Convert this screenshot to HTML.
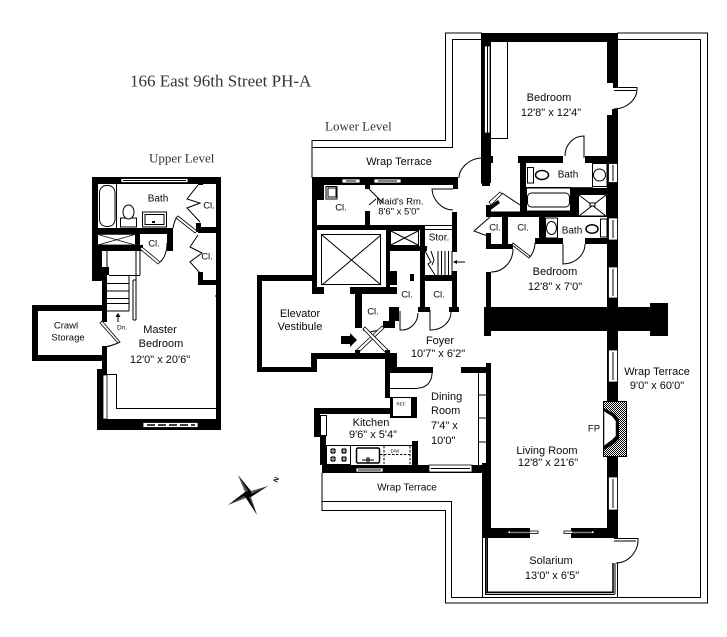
<!DOCTYPE html>
<html><head><meta charset="utf-8"><style>
html,body{margin:0;padding:0;background:#fff;width:727px;height:637px;overflow:hidden}
svg{display:block}
text{font-family:"Liberation Sans",sans-serif;font-size:11px;fill:#0a0a0a;text-anchor:middle;dominant-baseline:central}
text.s{font-family:"Liberation Serif",serif;fill:#333;text-anchor:start}
</style></head><body>
<svg width="727" height="637" viewBox="0 0 727 637" xmlns="http://www.w3.org/2000/svg">
<defs><pattern id="d" width="2" height="2" patternUnits="userSpaceOnUse"><rect width="2" height="2" fill="#fff"/><rect width="1" height="1"/><rect x="1" y="1" width="1" height="1"/></pattern></defs>

<text class="s" x="130" y="81" style="font-size:17px">166 East 96th Street PH-A</text>
<text class="s" x="149" y="158" style="font-size:13px">Upper Level</text>
<text class="s" x="325" y="126" style="font-size:13px">Lower Level</text>

<!-- terrace lines -->
<g fill="none" stroke="#000" stroke-width="1">
<path d="M312 178V140.500H445.500V33H482M617 33H707.500V603H445.500V510.500H322V473"/>
<path d="M312 147.500H452.500V39.500H482M617 39.500H700.500V597.500H451.500V501.500H322"/>
<path d="M507.500 42V138.500H491"/>
<path d="M482.500 538V597M485.500 538V594.500H615M487.500 538V592H614M617.500 563V597M615 563V594"/>
</g>
<path d="M486 538V592.500H613V563" fill="none" stroke="#000" stroke-width="1.500"/>

<!-- black walls lower -->
<g fill="#000">
<rect x="481" y="33" width="137" height="9"/>
<rect x="481" y="33" width="10" height="150"/>
<rect x="491" y="156" width="2" height="7"/>
<rect x="482" y="183" width="8" height="3"/>
<rect x="607" y="33" width="11" height="50"/>
<rect x="613" y="83" width="5" height="5"/>
<rect x="612" y="109" width="6" height="6"/>
<rect x="607" y="115" width="11" height="192"/>
<rect x="518" y="156" width="45" height="7"/>
<rect x="585" y="156" width="22" height="7"/>
<rect x="520" y="156" width="6" height="56"/>
<rect x="526" y="187" width="67" height="0.800"/>
<rect x="571" y="188" width="36" height="6"/>
<rect x="571" y="188" width="7" height="29"/>
<rect x="486" y="211.500" width="132" height="5.500"/>
<rect x="502" y="217" width="6" height="23"/>
<rect x="539" y="217" width="6" height="23"/>
<rect x="535" y="238" width="28" height="6"/>
<rect x="585" y="238" width="22" height="6"/>
<rect x="486" y="244" width="27" height="5"/>
<rect x="502" y="238" width="6" height="8"/>
<rect x="486" y="205" width="5" height="12"/>
<rect x="486" y="233" width="5" height="16"/>
<rect x="486" y="272" width="5" height="35"/>
<rect x="484" y="307" width="7" height="29"/>
<rect x="487" y="307" width="163" height="24"/>
<rect x="650" y="303" width="18" height="33"/>
<rect x="607" y="331" width="11" height="207"/>
<rect x="486" y="363" width="5" height="175"/>
<rect x="482" y="463" width="9" height="75"/>
<rect x="482" y="528" width="48" height="10"/>
<rect x="571" y="528" width="47" height="10"/>
<rect x="461" y="367" width="30" height="6"/>
<!-- maid / core -->
<rect x="312" y="177" width="146" height="8"/>
<rect x="453" y="185" width="5" height="4"/>
<rect x="312" y="177" width="5" height="117"/>
<rect x="317" y="185" width="7" height="15"/>
<rect x="365" y="185" width="5" height="4"/>
<rect x="365" y="211" width="5" height="14"/>
<rect x="317" y="225" width="108" height="5"/>
<rect x="452" y="212" width="5" height="40"/>
<rect x="386" y="230" width="4" height="57"/>
<rect x="390" y="246" width="37" height="5"/>
<rect x="420" y="225" width="5" height="87"/>
<rect x="420" y="275" width="37" height="6"/>
<rect x="452" y="271" width="5" height="36"/>
<rect x="449" y="307" width="10" height="5"/>
<rect x="418" y="307" width="12" height="5"/>
<rect x="389" y="271" width="8" height="14"/>
<rect x="410" y="274" width="4" height="7"/>
<rect x="312" y="287" width="12" height="7"/>
<rect x="350" y="287" width="47" height="7"/>
<rect x="355" y="294" width="7" height="34"/>
<rect x="389" y="307" width="10" height="14"/>
<rect x="383" y="321" width="12" height="7"/>
<!-- vestibule -->
<rect x="257" y="275" width="55" height="6"/>
<rect x="257" y="275" width="5" height="97"/>
<rect x="257" y="367" width="60" height="5"/>
<rect x="311" y="353" width="6" height="19"/>
<rect x="311" y="353" width="86" height="6"/>
<rect x="385" y="353" width="12" height="14"/>
<rect x="385" y="353" width="5" height="45"/>
<rect x="390" y="367" width="43" height="6"/>
<!-- kitchen / dining -->
<rect x="390" y="397" width="27" height="21"/>
<rect x="314" y="408" width="76" height="6"/>
<rect x="314" y="408" width="6" height="29"/>
<rect x="320" y="435" width="6" height="30"/>
<rect x="412" y="441" width="6" height="24"/>
<rect x="322" y="465" width="169" height="8"/>
<rect x="482" y="465" width="9" height="8"/>
<!-- stairs/vestibule arrow -->
<path d="M341 336H350V333L357 340L350 347V344H341Z"/>
<path d="M488 212L500 203L498 200L486 209Z"/>
</g>

<!-- white interiors on walls -->
<g fill="#fff" stroke="#000" stroke-width="0.800">
<rect x="484.500" y="46" width="5.500" height="87"/>
<rect x="608.500" y="163.500" width="9" height="19"/>
<rect x="608.500" y="218" width="9" height="22"/>
<rect x="608.500" y="267" width="9" height="31"/>
<rect x="608.500" y="350" width="9" height="32"/>
<rect x="608.500" y="477" width="9" height="33"/>
<rect x="342" y="179" width="18" height="4"/>
<rect x="374" y="179" width="27" height="4"/>
<rect x="356" y="468" width="27" height="4"/>
<rect x="429" y="465" width="43" height="7"/>
<rect x="508" y="531" width="30" height="2.500"/>
<rect x="564" y="531" width="30" height="2.500"/>
</g>
<g stroke="#000" stroke-width="1" fill="none">
<path d="M613 165V181M613 220V238M613 269V296M613 352V380M613 479V508M346 181H356M378 181H397M358 470H381M431 468.500H470M510 532H530M572 532H592M487.500 46V133"/>
</g>

<!-- shelves dining -->
<g stroke="#000" stroke-width="1" fill="none">
<path d="M478.500 373V465M478 395H486M478 418H486M478 442H486"/>
<path d="M390 388.500H418"/>
</g>

<!-- elevator and shafts -->
<g fill="none" stroke="#000" stroke-width="1">
<rect x="321.500" y="234.500" width="59" height="50"/>
<path d="M322 235L381 285M381 235L322 285"/>
<rect x="390.500" y="230.500" width="28" height="15"/>
<path d="M391 231L418 245M418 231L391 245"/>
<path d="M425 229.500H452M425 225.500H452"/>
<path d="M425 251L431 262L428 264L435 275M431 251L434 260L432 265"/>
<path d="M438 251V275M441.500 251V275M445 251V275M448.500 251V275M452 251V275"/>
<path d="M326 186.500H337V199H326Z"/><path d="M328 188H336V197H328Z"/>
<path d="M369 189L383 203M369 205L376 199"/>
<path d="M453 189H432C432.500 200 442 210 453 210"/>
<path d="M482 158V184" />
<path d="M482 158C470 158 459 168 459 178"/>
<!-- doors -->
<path d="M418 313C418 322 411 330 402 330H400V311"/>
<path d="M451 312C451 322 442 330 431 330H430V310"/>
<path d="M432 373C432 382 426 388 418 388"/>
<path d="M565 156C565 145 573 136 584 136V158"/>
<path d="M585 244C585 255 575 264 563 264V244"/>
<path d="M513 249C513 262 503 272 491 272"/>
<path d="M491 245.500H513M491 248.500H513"/>
<path d="M535 243C535 249 533 253 530 257"/>
<path d="M490 217L474 231L490 237"/>
<path d="M502 193L520 205"/>
<path d="M614 87.500H637V89C637 100 626 109 614 109"/>
<path d="M614 90.500H636"/>
<path d="M614 538.500H638V540C638 552 628 563 616 563"/>
<path d="M614 541H636"/>
<path d="M363 330C366 332 371 330 370 334C370 330 375 332 378 330"/>
</g>
<g fill="#fff" stroke="#000" stroke-width="0.800">
<path d="M489 202L500 192L502 194L491 205Z"/>
<path d="M513 243L530 256L529 258L512 245Z"/>
<path d="M355.500 351L382 326L384 328L358 353Z"/>
<path d="M365 327L389 351L386 353L363 329Z"/>
</g>
<g fill="#000"><rect x="355" y="350" width="5" height="3"/><rect x="385" y="350" width="5" height="3"/></g>

<!-- bathroom fixtures lower -->
<g fill="#fff" stroke="#000" stroke-width="1">
<rect x="592.500" y="163.500" width="14.500" height="23"/>
<circle cx="599.500" cy="175" r="6"/>
<rect x="527.500" y="167.500" width="6" height="15.500"/>
<ellipse cx="542" cy="175" rx="6.500" ry="4.500" stroke-width="1.500"/>
<rect x="526.500" y="188" width="44" height="23"/>
<rect x="527.500" y="193" width="42" height="14" rx="4"/>
<rect x="578.500" y="194.500" width="28" height="21.500"/>
<path d="M579 195L606 216M606 195L579 216" fill="none"/>
<rect x="590" y="203" width="5" height="3"/>
<rect x="545.500" y="218" width="12" height="20"/>
<ellipse cx="551.500" cy="228" rx="5" ry="6.500"/>
<rect x="600.500" y="219" width="6.500" height="18"/>
<ellipse cx="592" cy="229" rx="6" ry="4.200" stroke-width="1.500"/>
</g>

<!-- fireplace -->
<rect x="603.500" y="401.500" width="23" height="55" fill="url(#d)" stroke="#000"/>
<path d="M604 408L615 414L619 419L619 439L615 443L604 450Z" fill="#000"/>
<path d="M604 411L612 416L616 421V436L612 440L604 446Z" fill="#fff" stroke="#000" stroke-width="0.500"/>

<!-- kitchen details -->
<g fill="none" stroke="#000" stroke-width="1">
<rect x="320.500" y="415.500" width="6" height="20" fill="#fff"/>
<rect x="326.500" y="445.500" width="24" height="19" />
<path d="M326 445.500H412"/>
<rect x="356.500" y="448" width="23" height="15" rx="1.500" stroke-width="1.500"/>
<path d="M367 463V458H369V463M362 460H374"/>
<path d="M380 454.500H412M384 446V464M410 446V464" stroke-dasharray="2.500 1.500"/>
<rect x="392.500" y="397.500" width="19" height="19" fill="#fff"/>
</g>
<g fill="#000">
<circle cx="333" cy="451" r="3"/><circle cx="344" cy="451" r="3"/><circle cx="333" cy="459" r="3"/><circle cx="344" cy="459" r="3"/>
</g>
<g stroke="#fff" stroke-width="0.700"><path d="M333 447V455M329 451H337M344 447V455M340 451H348M333 455V463M329 459H337M344 455V463M340 459H348"/></g>

<!-- stairs arrow lower -->
<path d="M465 262H455" stroke="#000" fill="none"/><path d="M453 262L457 260V264Z"/>

<!-- UPPER LEVEL -->
<g fill="#000">
<rect x="92" y="177" width="129" height="7"/>
<rect x="92" y="177" width="6" height="74"/>
<rect x="92" y="228" width="81" height="6"/>
<rect x="135" y="228" width="5" height="23"/>
<rect x="92" y="245" width="51" height="6"/>
<rect x="167" y="234" width="6" height="17"/>
<rect x="92" y="251" width="10" height="30"/>
<rect x="102" y="267" width="7" height="8"/>
<rect x="102" y="267" width="5" height="55"/>
<rect x="198" y="227" width="23" height="6"/>
<rect x="196" y="223" width="5" height="9"/>
<rect x="198" y="181" width="5" height="4"/>
<rect x="216" y="177" width="5" height="253"/>
<rect x="198" y="280" width="18" height="5"/>
<rect x="198" y="272" width="5" height="13"/>
<rect x="215" y="295.500" width="1" height="1"/>
<rect x="32" y="305" width="70" height="6"/>
<rect x="32" y="305" width="6" height="56"/>
<rect x="32" y="355" width="70" height="6"/>
<rect x="102" y="346" width="5" height="30"/>
<rect x="97" y="369" width="10" height="61"/>
<rect x="97" y="419" width="124" height="11"/>
<rect x="102" y="305" width="5" height="7"/>
</g>
<g fill="#fff" stroke="#000" stroke-width="0.800">
<rect x="121" y="178.500" width="67" height="4"/>
<rect x="103" y="375" width="4" height="44"/>
<rect x="143" y="422.500" width="55" height="5"/>
</g>
<g stroke="#000" fill="none">
<path d="M123 180.500H186" stroke-width="1"/>
<path d="M147 425H195" stroke-width="1.500" stroke-dasharray="8 3"/>
<path d="M107 374.500H116.500V408.500H216" stroke-width="1"/>
<path d="M116.500 184V228" stroke-width="1"/>
<path d="M107 251V267M140 251V275M136 251V275M109 275.500H140M129 275V311M107 283.500H129M107 291H129M107 298.500H129M107 303.500H129M107 311H129M133 280V320M133 280H136M133 320H136M136 275V320" stroke-width="1"/>
<path d="M98 234.500H135M98 245H135M98 234.500L135 245M135 234.500L98 245" stroke-width="0.800"/>
<rect x="99.500" y="185.500" width="15.500" height="41" rx="7" stroke-width="1"/>
<path d="M198 185L187 199L200 203L187 208L200 222" stroke-width="1"/>
<path d="M198 235L190 247L202 253L190 262L200 273" stroke-width="1"/>
<path d="M160 262C165 258 167 250 167 243" stroke-width="1"/>
<path d="M173 228C174 222 176 218 178 216" stroke-width="1"/>
<path d="M120 342C114 345 108 347 102 347" stroke-width="1"/>
<path d="M118 322V315" stroke-width="1"/>
</g>
<g fill="#fff" stroke="#000" stroke-width="0.800">
<path d="M178 216L197 231L195 233L176 218Z"/>
<path d="M142 247L160 262L158 264L140 249Z"/>
<path d="M102 321L120 342L118 343L100 323Z"/>
</g>
<g fill="#fff" stroke="#000" stroke-width="1">
<rect x="120.500" y="218" width="16" height="9"/>
<ellipse cx="128.500" cy="212" rx="5.500" ry="7"/>
<rect x="142.500" y="212" width="24" height="15"/>
<rect x="145" y="214.500" width="19" height="10"/>
</g>
<path d="M118 313L115.500 317H120.500Z"/>
<rect x="152" y="221" width="3" height="2"/>

<!-- compass -->
<path d="M238 475L251 491L268 486L251 497L257 515L246 498L228 505L245 492Z" fill="#000"/>
<path d="M251 491L268 486L251 494ZM245 492L238 475L248 491ZM246 498L228 505L244 496ZM251 497L257 515L249 497Z" fill="#fff" opacity=".35"/>
<text x="277" y="480" transform="rotate(-65 277 480)" style="font-size:7px;font-weight:bold">N</text>

<!-- labels -->
<text x="549" y="98">Bedroom</text>
<text x="551" y="113">12'8" x 12'4"</text>
<text x="568" y="175" style="font-size:10px">Bath</text>
<text x="572" y="231" style="font-size:10px">Bath</text>
<text x="555" y="272">Bedroom</text>
<text x="555" y="287">12'8" x 7'0"</text>
<text x="399" y="162">Wrap Terrace</text>
<text x="400" y="202" style="font-size:9.500px">Maid's Rm.</text>
<text x="399" y="212" style="font-size:9.500px">8'6" x 5'0"</text>
<text x="341" y="208" style="font-size:9.500px">Cl.</text>
<text x="439" y="238" style="font-size:10px">Stor.</text>
<text x="407" y="295" style="font-size:9.500px">Cl.</text>
<text x="439" y="295" style="font-size:9.500px">Cl.</text>
<text x="373" y="312" style="font-size:9.500px">Cl.</text>
<text x="495" y="228" style="font-size:9.500px">Cl.</text>
<text x="523" y="228" style="font-size:9.500px">Cl.</text>
<text x="300" y="314">Elevator</text>
<text x="300" y="327">Vestibule</text>
<text x="440" y="341">Foyer</text>
<text x="438" y="354">10'7" x 6'2"</text>
<text x="431" y="397" style="text-anchor:start">Dining</text>
<text x="431" y="411" style="text-anchor:start">Room</text>
<text x="431" y="426" style="text-anchor:start">7'4" x</text>
<text x="431" y="441" style="text-anchor:start">10'0"</text>
<text x="371" y="423">Kitchen</text>
<text x="373" y="435">9'6" x 5'4"</text>
<text x="407" y="488" style="font-size:10px">Wrap Terrace</text>
<text x="657" y="372">Wrap Terrace</text>
<text x="657" y="386">9'0" x 60'0"</text>
<text x="594" y="429" style="font-size:9.500px">FP</text>
<text x="547" y="451">Living Room</text>
<text x="548" y="463">12'8" x 21'6"</text>
<text x="551" y="561">Solarium</text>
<text x="552" y="576">13'0" x 6'5"</text>
<text x="160" y="330">Master</text>
<text x="161" y="344">Bedroom</text>
<text x="160" y="360">12'0" x 20'6"</text>
<text x="66" y="326" style="font-size:9.500px">Crawl</text>
<text x="68" y="338" style="font-size:9.500px">Storage</text>
<text x="122" y="328" style="font-size:6.500px">Dn.</text>
<text x="158" y="199" style="font-size:10px">Bath</text>
<text x="209" y="206" style="font-size:9.500px">Cl.</text>
<text x="154" y="244" style="font-size:9.500px">Cl.</text>
<text x="207" y="257" style="font-size:9.500px">Cl.</text>
<text x="401" y="404" style="font-size:4.500px">REF</text>
<text x="395" y="451" style="font-size:4.500px">D/W</text>
</svg>
</body></html>
